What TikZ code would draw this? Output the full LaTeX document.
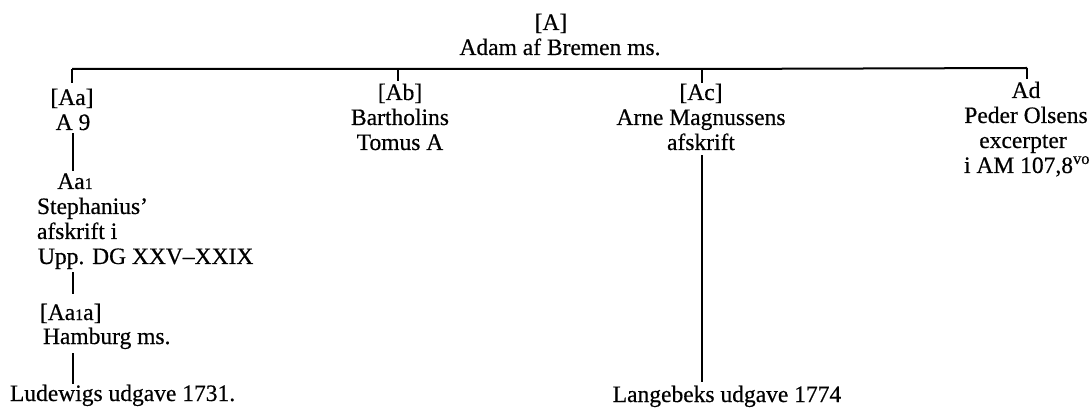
\documentclass[tikz,border=0pt]{standalone}
\usepackage{fontspec}
\setmainfont{Liberation Serif}[BoldFont=Liberation Serif,BoldFeatures={FakeBold=0.5}]
\newcommand{\osone}{{\fontsize{16}{16}\selectfont 1}}
\begin{document}
\begin{tikzpicture}[x=1pt,y=-1pt,
  txt/.style={inner sep=0pt,outer sep=0pt,font=\fontsize{23.5}{25}\selectfont\bfseries},
  ctr/.style={txt,anchor=base},
  lft/.style={txt,anchor=base west},
  conn/.style={line width=2pt}]
\useasboundingbox (0,0) rectangle (1091,411);
% root
\node[ctr] (A) at (551,30) {[A]};
\node[ctr] (Aname) at (560,55) {Adam af Bremen ms.};
% bar junctions
\coordinate (jAa) at (72,69);
\coordinate (jAb) at (398,69);
\coordinate (jAc) at (702,69);
\coordinate (jAd) at (1027,68);
\draw[conn] (jAa) -- (jAb) -- (jAc) -- (jAd);
% Aa branch
\node[ctr] (Aa) at (72,105) {[Aa]};
\node[ctr] (Aa9) at (73,130) {A 9};
\node[ctr] (Aa1) at (75,189) {Aa\osone};
\node[lft] (Aa1b) at (37,214) {Stephanius’};
\node[lft] (Aa1c) at (37,239) {afskrift i};
\node[lft] (Aa1d) at (38,264) {Upp. DG XXV–XXIX};
\node[lft] (Aa1a) at (40,320) {[Aa\osone a]};
\node[lft] (Aa1ab) at (43,344) {Hamburg ms.};
\node[lft] (Lud) at (10,401) {Ludewigs udgave 1731.};
% Ab branch
\node[ctr] (Ab) at (400,100) {[Ab]};
\node[ctr] (Abb) at (400,125) {Bartholins};
\node[ctr] (Abc) at (400,150) {Tomus A};
% Ac branch
\node[ctr] (Ac) at (701,100) {[Ac]};
\node[ctr] (Acb) at (701,125) {Arne Magnussens};
\node[ctr] (Acc) at (701,150) {afskrift};
\node[ctr] (Lang) at (727,402) {Langebeks udgave 1774};
% Ad branch
\node[ctr] (Ad) at (1026,98) {Ad};
\node[ctr] (Adb) at (1026,123) {Peder Olsens};
\node[ctr] (Adc) at (1023,148) {excerpter};
\node[ctr] (Add) at (1027,173) {i AM 107,8\textsuperscript{vo}};
% stubs
\draw[conn,shorten >=5.5pt] (jAa) -- (jAa |- Aa.north);
\draw[conn,shorten >=3pt] (jAb) -- (jAb |- Ab.north);
\draw[conn,shorten >=1pt] (jAc) -- (jAc |- Ac.north);
\draw[conn,shorten >=3pt] (jAd) -- (jAd |- Ad.north);
% vertical connectors
\coordinate (cAa) at (72.5,0);
\draw[conn,shorten <=3pt,shorten >=2pt] (cAa |- Aa9.south) -- (cAa |- Aa1.north);
\draw[conn,shorten <=3pt,shorten >=9.5pt] (cAa |- Aa1d.south) -- (cAa |- Aa1a.north);
\draw[conn,shorten <=4pt,shorten >=1pt] (cAa |- Aa1ab.south) -- (cAa |- Lud.north);
\draw[conn,shorten <=5pt,shorten >=4pt] (jAc |- Acc.south) -- (jAc |- Lang.north);
\end{tikzpicture}
\end{document}
